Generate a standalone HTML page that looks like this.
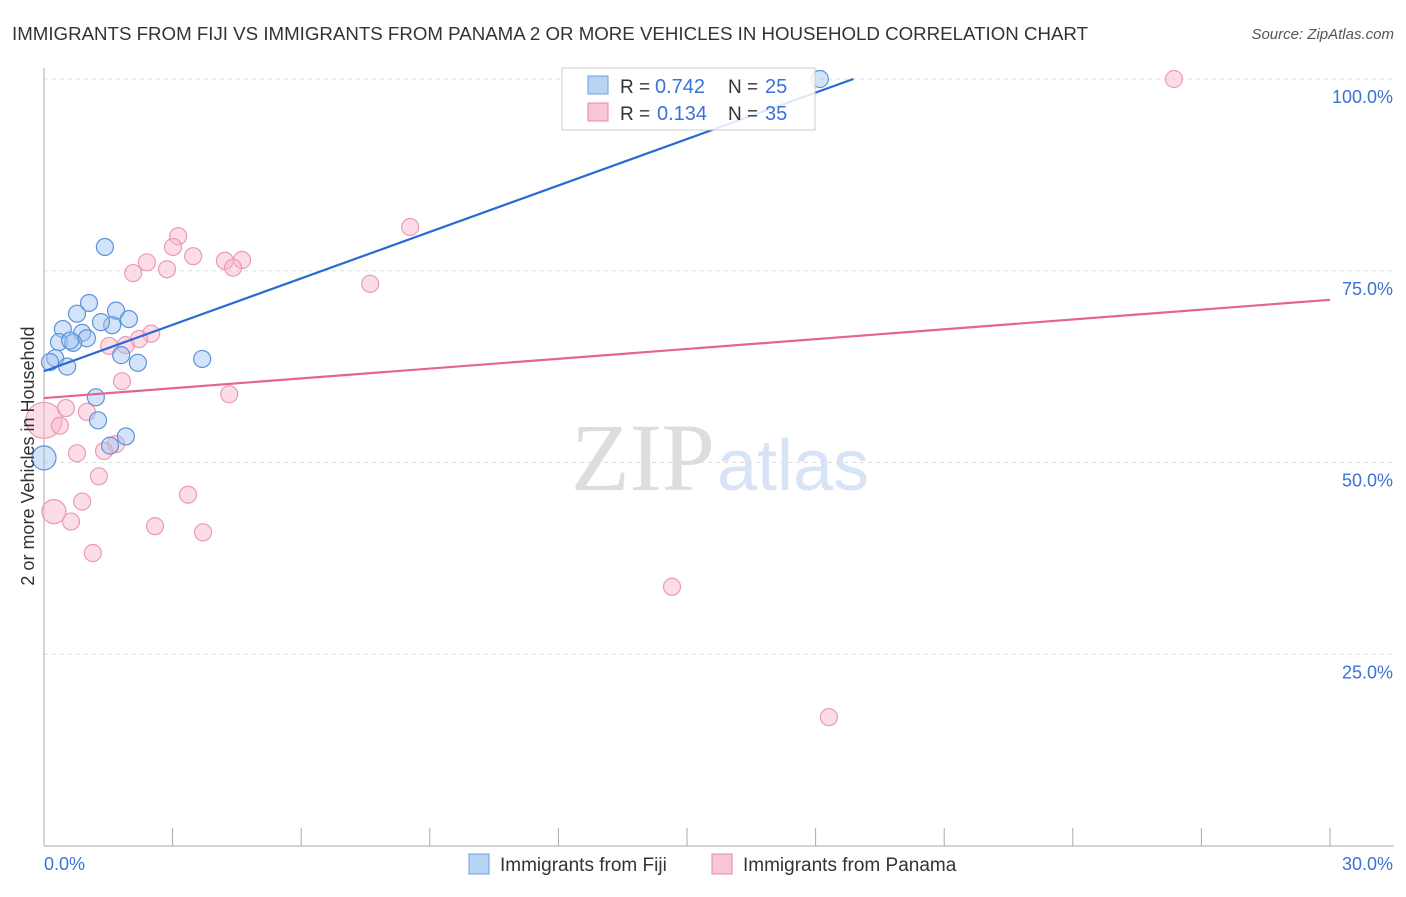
<!DOCTYPE html>
<html><head><meta charset="utf-8"><style>
body{margin:0;background:#fff;font-family:"Liberation Sans",sans-serif}
</style></head><body>
<svg id="chart" width="1406" height="892" xmlns="http://www.w3.org/2000/svg">
<text x="12" y="40" font-size="18.5" fill="#333" textLength="1076" lengthAdjust="spacingAndGlyphs">IMMIGRANTS FROM FIJI VS IMMIGRANTS FROM PANAMA 2 OR MORE VEHICLES IN HOUSEHOLD CORRELATION CHART</text>
<text x="1394" y="39" font-size="15" fill="#555" font-style="italic" text-anchor="end">Source: ZipAtlas.com</text>
<text x="715" y="490" font-size="96" fill="#ddd" font-family="Liberation Serif" text-anchor="end">ZIP</text>
<text x="717" y="490" font-size="72" fill="#d6e4f5">atlas</text>
<g id="grid"></g><g id="axes"></g><g id="marks"></g>
<text transform="translate(34,456) rotate(-90)" font-size="18" fill="#333" text-anchor="middle">2 or more Vehicles in Household</text>
<g>
<rect x="562" y="68" width="253" height="62" fill="#fff" fill-opacity="0.85" stroke="#ccc"/>
<rect x="588" y="76" width="20" height="18" fill="#b9d3f5" stroke="#6a9fe0"/>
<rect x="588" y="103" width="20" height="18" fill="#f8c6d5" stroke="#e88aa8"/>
<text x="620" y="93" font-size="19" fill="#333">R =</text>
<text x="655" y="93" font-size="20" fill="#3a72d8">0.742</text>
<text x="728" y="93" font-size="19" fill="#333">N =</text>
<text x="765" y="93" font-size="20" fill="#3a72d8">25</text>
<text x="620" y="120" font-size="19" fill="#333">R =</text>
<text x="657" y="120" font-size="20" fill="#3a72d8">0.134</text>
<text x="728" y="120" font-size="19" fill="#333">N =</text>
<text x="765" y="120" font-size="20" fill="#3a72d8">35</text>
</g>
<g>
<rect x="469" y="854" width="20" height="20" fill="#b9d3f5" stroke="#6a9fe0"/>
<text x="500" y="871" font-size="19" fill="#333">Immigrants from Fiji</text>
<rect x="712" y="854" width="20" height="20" fill="#f8c6d5" stroke="#e88aa8"/>
<text x="743" y="871" font-size="19" fill="#333">Immigrants from Panama</text>
</g>
</svg>
<script>
const fijiX=[1.42,1.05,1.68,0.77,0.44,1.98,0.89,1.59,1.33,1.0,0.35,0.68,0.61,0.26,0.14,0.54,1.80,2.19,3.69,1.21,1.26,1.91,1.54,0,18.1];
const fijiY=[78.1,70.8,69.8,69.4,67.4,68.7,66.9,67.9,68.3,66.2,65.7,65.6,65.9,63.6,63.1,62.5,64.0,63.0,63.5,58.5,55.5,53.4,52.2,50.6,100];
const panX=[26.36,8.54,3.13,3.01,3.48,2.4,2.08,2.87,4.22,4.62,4.41,7.61,2.5,2.22,1.91,1.52,1.82,4.32,0,0.51,1.0,0.37,1.68,1.4,0.77,1.28,3.36,0.89,0.23,0.63,2.59,3.71,1.14,14.65,18.31];
const panY=[100,80.7,79.5,78.1,76.9,76.1,74.7,75.2,76.3,76.4,75.4,73.3,66.8,66.1,65.3,65.2,60.6,58.9,55.5,57.1,56.6,54.8,52.4,51.5,51.2,48.2,45.8,44.9,43.6,42.3,41.7,40.9,38.2,33.8,16.8];
const trendFiji=[61.9,2.018], trendPan=[58.4,0.427];
const yTicks=[25,50,75,100], yTickLabels=["25.0%","50.0%","75.0%","100.0%"];
const xTicks=[0,3,6,9,12,15,18,21,24,27,30];
const NS="http://www.w3.org/2000/svg";
const X=v=>44+v/30*1286, Y=v=>846-v/100*767;
function mk(t,a,p){const e=document.createElementNS(NS,t);for(const k in a)e.setAttribute(k,a[k]);p.appendChild(e);return e;}
const grid=document.getElementById('grid'),axes=document.getElementById('axes'),marks=document.getElementById('marks');
yTicks.forEach((v,i)=>{
 const l=mk('line',{x1:44,x2:1394,y1:Y(v),y2:Y(v),stroke:'#ddd','stroke-dasharray':'4,4'},grid);
 
 
 const t=mk('text',{x:1393,y:Y(v)+24,'font-size':18,fill:'#3a72d8','text-anchor':'end'},axes);t.textContent=yTickLabels[i];
 
 
});
mk('line',{x1:44,x2:44,y1:68,y2:846,stroke:'#aaa'},axes);
mk('line',{x1:44,x2:1394,y1:846,y2:846,stroke:'#aaa'},axes);
xTicks.forEach(v=>{const l=mk('line',{x1:X(v),x2:X(v),y1:828,y2:846,stroke:'#aaa'},axes);
 
 });
let t=mk('text',{x:44,y:870,'font-size':18,fill:'#3a72d8'},axes);t.textContent='0.0%';


t=mk('text',{x:1393,y:870,'font-size':18,fill:'#3a72d8','text-anchor':'end'},axes);t.textContent='30.0%';


panX.forEach((x,i)=>{const c=mk('circle',{cx:X(x),cy:Y(panY[i]),r:(i==18?18:(i==28?12:8.5)),fill:'rgba(248,180,200,0.45)',stroke:'#ec9ab3','stroke-width':1.2},marks);
 
 });
fijiX.forEach((x,i)=>{const c=mk('circle',{cx:X(x),cy:Y(fijiY[i]),r:(i==23?12:8.5),fill:'rgba(160,195,240,0.45)',stroke:'#5d92dc','stroke-width':1.2},marks);
 
 });
const xEndF=(100-trendFiji[0])/trendFiji[1];
let l=mk('line',{x1:X(0),y1:Y(trendFiji[0]),x2:X(xEndF),y2:Y(100),stroke:'#2a6ad6','stroke-width':2.2},marks);


l=mk('line',{x1:X(0),y1:Y(trendPan[0]),x2:X(30),y2:Y(trendPan[0]+30*trendPan[1]),stroke:'#e4668f','stroke-width':2.2},marks);


</script>
</body></html>
